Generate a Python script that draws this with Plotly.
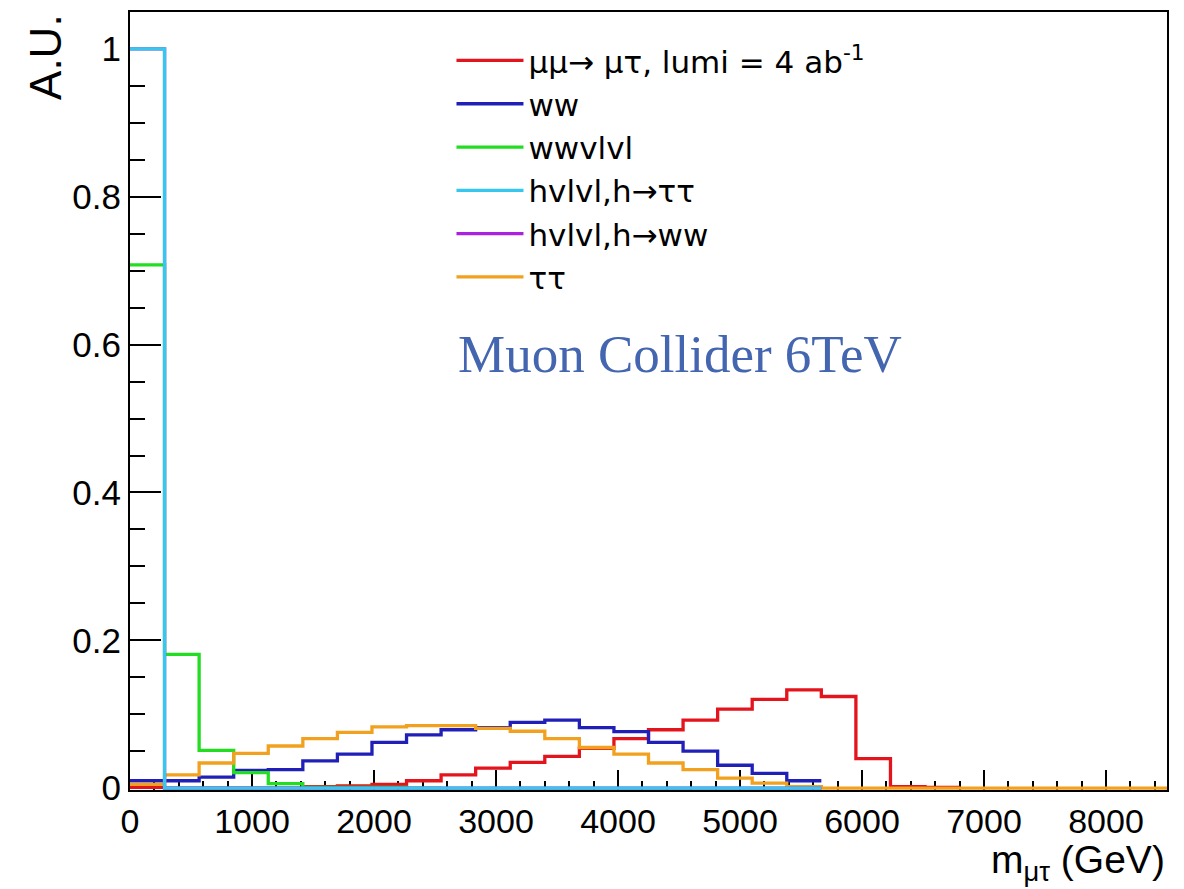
import numpy as np
import plotly.graph_objects as go

# ---- data (30 bins of m_mutau from 0 to 8500 GeV) ----
x_min, x_max, n_bins = 0, 8500, 30
edges = np.linspace(x_min, x_max, n_bins + 1)

sig_mutau = [0.001, 0.000, 0.000, 0.000, 0.000, 0.002, 0.003, 0.005, 0.010, 0.018,
             0.027, 0.035, 0.043, 0.054, 0.067, 0.079, 0.092, 0.107, 0.120, 0.133,
             0.124, 0.040, 0.002, 0.001]
bkg_ww = [0.010, 0.010, 0.015, 0.024, 0.025, 0.037, 0.046, 0.062, 0.072, 0.079,
          0.082, 0.089, 0.092, 0.082, 0.0765, 0.062, 0.050, 0.031, 0.020, 0.010]
bkg_wwvlvl = [0.708, 0.181, 0.051, 0.021, 0.006, 0.001, 0.001, 0.001, 0.000]
bkg_hvlvl_tautau = [1.0, 0, 0, 0, 0, 0, 0, 0, 0, 0,
                    0, 0, 0, 0, 0, 0, 0, 0, 0, 0]
bkg_hvlvl_ww = [1.0, 0, 0, 0, 0, 0, 0, 0, 0, 0,
                0, 0, 0, 0, 0, 0, 0, 0, 0, 0]
bkg_tautau = [0.005, 0.018, 0.034, 0.047, 0.057, 0.067, 0.0755, 0.083, 0.0845, 0.0845,
              0.081, 0.077, 0.067, 0.055, 0.046, 0.034, 0.025, 0.0135, 0.0067, 0.0022,
              0, 0, 0, 0, 0, 0, 0, 0, 0, 0]

ARROW = '<span style="font-family:DejaVu Sans">→</span>'
labels = {
    "sig": "μμ" + ARROW + " μτ, lumi = 4 ab<sup>-1</sup>",
    "ww": "ww",
    "wwvlvl": "wwvlvl",
    "htt": "hvlvl,h" + ARROW + "ττ",
    "hww": "hvlvl,h" + ARROW + "ww",
    "tt": "ττ",
}
x_ticks = [0, 1000, 2000, 3000, 4000, 5000, 6000, 7000, 8000]

# ---- styles ----
series = [  # drawing order: (key, values, color, legendrank)
    ("sig", sig_mutau, "#e3141c", 1),
    ("ww", bkg_ww, "#2020b8", 2),
    ("wwvlvl", bkg_wwvlvl, "#22dd22", 3),
    ("tt", bkg_tautau, "#f2a11f", 6),
    ("hww", bkg_hvlvl_ww, "#aa22dd", 5),
    ("htt", bkg_hvlvl_tautau, "#36c6ee", 4),
]

FONT = "Liberation Sans, Arial, sans-serif"
LEGFONT = "DejaVu Sans, Liberation Sans, sans-serif"
fig = go.Figure()
for key, vals, color, rank in series:
    n = len(vals)
    xs = list(edges[: n + 1])
    ys = list(vals) + [vals[-1]]
    fig.add_trace(go.Scatter(
        x=xs, y=ys, mode="lines", line=dict(shape="hv", color=color, width=3.3),
        name=labels[key], legendrank=rank, hoverinfo="skip",
    ))

fig.update_layout(
    width=1184, height=889,
    margin=dict(l=130, r=17, t=10, b=99),
    paper_bgcolor="white", plot_bgcolor="white",
    font=dict(family=FONT, color="black"),
    showlegend=True,
    legend=dict(
        x=0.31, y=0.972, xanchor="left", yanchor="top",
        bgcolor="rgba(0,0,0,0)", borderwidth=0,
        font=dict(size=31, family=LEGFONT, color="black"),
        itemwidth=67, tracegroupgap=0,
    ),
    xaxis=dict(
        range=[x_min, x_max], showgrid=False, zeroline=False,
        showline=True, linecolor="black", linewidth=2, mirror=True,
        ticks="inside", ticklen=20, tickwidth=1.5, tickcolor="black",
        tickvals=x_ticks, ticktext=[str(v) for v in x_ticks],
        tickfont=dict(size=34, family=FONT),
        minor=dict(ticks="inside", ticklen=9, dtick=200, tickwidth=1.5, tickcolor="black"),
        layer="below traces",
    ),
    yaxis=dict(
        range=[-0.0025, 1.05], showgrid=False, zeroline=False,
        showline=True, linecolor="black", linewidth=2, mirror=True,
        ticks="inside", ticklen=31, tickwidth=1.5, tickcolor="black",
        dtick=0.2, tick0=0,
        tickfont=dict(size=35, family=FONT),
        minor=dict(ticks="inside", ticklen=15, dtick=0.05, tickwidth=1.5, tickcolor="black"),
        layer="below traces",
    ),
)

fig.add_annotation(
    text="A.U.", xref="paper", yref="paper", x=-0.082, y=1.0,
    xanchor="center", yanchor="top", textangle=-90, showarrow=False,
    font=dict(size=44, family=FONT, color="black"),
)
fig.add_annotation(
    text="m<sub>μτ</sub> (GeV)", xref="paper", yref="paper", x=1.0, y=-0.1275,
    xanchor="right", yanchor="bottom", showarrow=False,
    font=dict(size=39, family=FONT, color="black"),
)
fig.add_annotation(
    text="Muon Collider 6TeV", xref="paper", yref="paper", x=0.314, y=0.56,
    xanchor="left", yanchor="middle", showarrow=False,
    font=dict(size=53, family="Liberation Serif, DejaVu Serif, serif", color="#4466b0"),
)

fig.write_html("out.html")
